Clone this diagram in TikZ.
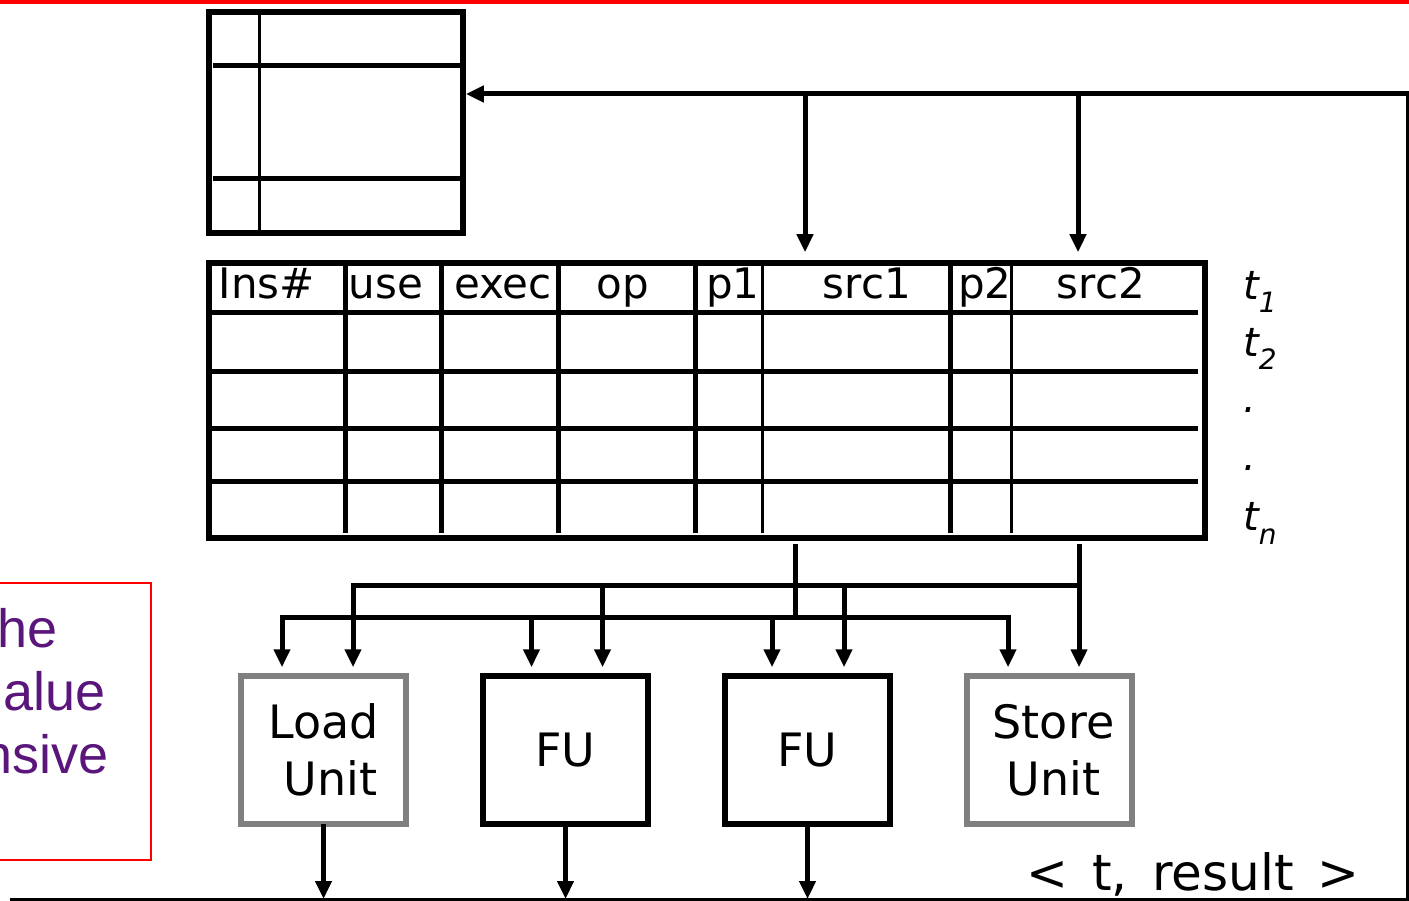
\documentclass[tikz,border=0pt]{standalone}
\usepackage{fontspec}
\setmainfont{DejaVu Sans}
\newfontfamily\notefont{Liberation Sans}
\usetikzlibrary{arrows.meta, positioning, calc}
\definecolor{notepurple}{RGB}{90,22,122}
\definecolor{unitgray}{RGB}{128,128,128}
\newcommand{\tsub}[2][-13pt]{\raisebox{#1}{\fontsize{28}{30}\selectfont #2}}
\tikzset{
  frame/.style={draw, line width=5.5pt, inner sep=0pt},
  unit/.style={frame, minimum width=165pt, minimum height=148pt, align=center,
               font=\fontsize{46}{57}\selectfont},
  memunit/.style={unit, draw=unitgray},
  hdr/.style={anchor=base, inner sep=0pt, font=\fontsize{42}{50}\selectfont},
  tag/.style={anchor=base west, inner sep=0pt, font=\fontsize{40}{48}\selectfont\itshape},
  note/.style={anchor=base west, inner sep=0pt, text=notepurple,
               font=\notefont\fontsize{54}{63}\selectfont},
  wire/.style={line width=5pt, line cap=rect},
  thinwire/.style={line width=3pt},
  arc/.style={wire, -{Triangle[width=16pt,length=18pt]}}
}
\begin{document}
\begin{tikzpicture}[x=1pt, y=-1pt, node distance=71.5pt]
  \useasboundingbox (0,0) rectangle (1409,901);
  \draw[red, line width=4pt] (0,2) -- (1409,2);
  % register file
  \node[frame, minimum width=254pt, minimum height=221pt] (rf) at (336,122.5) {};
  \draw[line width=3pt] (259,12) -- (259,233);
  \foreach \y in {66,179} \draw[line width=5pt] (213,\y) -- (461,\y);
  % reservation table
  \node[frame, minimum width=996pt, minimum height=275pt] (rs) at (707,400.5) {};
  \foreach \y in {313,372,428,481} \draw[line width=5pt] (209,\y) -- (1198,\y);
  \foreach \x/\w in {345/5, 441/5, 558/5, 695/5, 762/3, 950/5, 1011/3}
    \draw[line width=\w pt] (\x,263) -- (\x,533);
  \foreach \x/\t [count=\i] in {267/Ins\#, 386/use, 503/exec, 623/op, 733/p1,
      867/src1, 985/p2, 1101/src2}
    \node[hdr] (h\i) at (\x,299) {\t};
  \node[tag] (t1) at (1243,300) {t\tsub{1}};
  \node[tag] (t2) at (1243,357) {t\tsub{2}};
  \node[tag] (d1) at (1243,413) {.};
  \node[tag] (d2) at (1243,470) {.};
  \node[tag] (tn) at (1243,530) {t\tsub[-14pt]{n}};
  % units
  \node[memunit] (ld) at (323.5,750) {Load\\\hspace*{14pt}Unit};
  \node[unit, right=of ld] (fua) {FU};
  \node[unit, right=of fua] (fub) {FU};
  \node[memunit, right=of fub] (st) {\hspace*{8pt}Store\\\hspace*{8pt}Unit};
  % result bus
  \coordinate (rt) at (1407,94);
  \coordinate (br) at (1407,899);
  \coordinate (bl) at (10,899);
  \draw[thinwire] (bl) -- (br) -- (rt);
  \draw[arc] (rt) -- (rf.east |- rt);
  \coordinate (s1) at (805,94);
  \coordinate (s2) at (1078,94);
  \foreach \s in {s1,s2} \draw[arc, shorten >=8pt] (\s) -- (\s |- rs.north);
  \foreach \u in {ld,fua,fub} \draw[arc] (\u.south) -- (\u.south |- bl);
  \node[anchor=base, inner sep=0pt, font=\fontsize{50}{60}\selectfont] (res)
    at (1193,890) {<\, t,\, result\, >};
  % operand buses
  \coordinate (lo) at (0,617);
  \coordinate (up) at (0,585);
  \foreach \u/\a/\b in {ld/-41.5/29.5, fua/-34/37, fub/-35.5/36.5, st/-41.5/29.5} {
    \coordinate (\u a) at ([xshift=\a pt]\u.north);
    \coordinate (\u b) at ([xshift=\b pt]\u.north);
    \draw[arc, shorten >=6pt] (\u a |- lo) -- (\u a);
  }
  \foreach \u in {ld,fua,fub} \draw[arc, shorten >=6pt] (\u b |- up) -- (\u b);
  \draw[wire] (lda |- lo) -- (sta |- lo);
  \draw[wire] (ldb |- up) -- (stb |- up);
  \coordinate (k1) at (795,546);
  \coordinate (k2) at (stb |- k1);
  \draw[wire] (k1) -- (k1 |- lo);
  \draw[arc, shorten >=6pt] (k2) -- (stb);
  % side note
  \draw[red, line width=2pt] (-10,583) rectangle (151,860);
  \node[note] (n1) at (-3,647) {he};
  \node[note] (n2) at (3,710) {alue};
  \node[note] (n3) at (-18,773) {nsive};
\end{tikzpicture}
\end{document}
